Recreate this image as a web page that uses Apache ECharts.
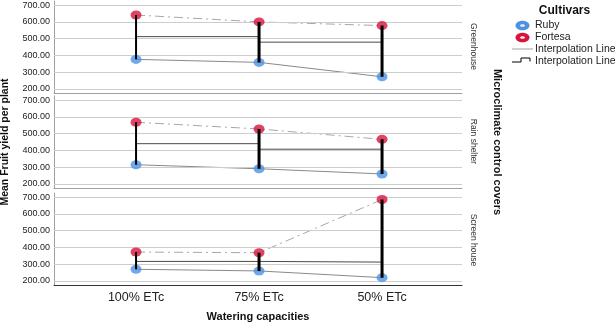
<!DOCTYPE html>
<html>
<head>
<meta charset="utf-8">
<script src="https://cdn.jsdelivr.net/npm/echarts@6/dist/echarts.min.js"></script>
<style>
html,body{margin:0;padding:0;background:#fff;}
#main{width:615px;height:323px;}
</style>
</head>
<body>
<div id="main"></div>
<script>
// ---- data ----
const categories = ['100% ETc', '75% ETc', '50% ETc'];
const panels = ['Greenhouse', 'Rain shelter', 'Screen house'];
const yTicks = [200, 300, 400, 500, 600, 700];
const rubyGreenhouse = [376, 358, 272];
const fortesaGreenhouse = [641, 600, 578];
const meanGreenhouse = [512, 479, 425];
const rubyRainShelter = [314, 290, 259];
const fortesaRainShelter = [568, 528, 466];
const meanRainShelter = [440, 407, 362];
const rubyScreenHouse = [269, 259, 219];
const fortesaScreenHouse = [372, 368, 686];
const meanScreenHouse = [316, 312, 453];

const rubyData = [rubyGreenhouse, rubyRainShelter, rubyScreenHouse];
const fortesaData = [fortesaGreenhouse, fortesaRainShelter, fortesaScreenHouse];
const meanData = [meanGreenhouse, meanRainShelter, meanScreenHouse];

const BLUE = '#4d92e3';
const RED = '#d8143c';
const FONT = 'Liberation Sans, Arial, sans-serif';

const gridTops = [1, 96, 193];
const grids = gridTops.map(t => ({left: 54, width: 408, top: t, height: 92}));

const xAxes = gridTops.map((t, p) => ({
  type: 'value', gridIndex: p, min: -0.667, max: 2.65,
  axisLine: {show: true, onZero: false, lineStyle: {color: p === 2 ? '#333' : '#a0a0a0', width: 1}},
  axisTick: {show: false},
  splitLine: {show: false},
  axisLabel: {
    show: p === 2, customValues: [0, 1, 2], margin: 6,
    fontSize: 12.5, color: '#222', fontFamily: FONT,
    formatter: v => (Number.isInteger(v) && categories[v]) ? categories[v] : ''
  }
}));
const yAxes = gridTops.map((t, p) => ({
  type: 'value', gridIndex: p, min: 175, max: 725,
  axisLine: {show: true, onZero: false, lineStyle: {color: '#a0a0a0', width: 1}},
  axisTick: {show: false},
  splitLine: {show: false},
  axisLabel: {
    customValues: yTicks, margin: 4, fontSize: 9, color: '#222', fontFamily: FONT,
    formatter: v => yTicks.indexOf(v) >= 0 ? v.toFixed(2) : ''
  }
}));

const series = [];
for (let p = 0; p < 3; p++) {
  const ruby = rubyData[p], forte = fortesaData[p], mean = meanData[p];
  // Ruby interpolation line + grid lines
  series.push({
    type: 'line', xAxisIndex: p, yAxisIndex: p, z: 2,
    data: ruby.map((v, i) => [i, v]), symbol: 'none',
    lineStyle: {color: '#8a8a8a', width: 1},
    markLine: {
      silent: true, symbol: ['none', 'none'], label: {show: false},
      lineStyle: {color: '#cdcdcd', type: 'solid', width: 1},
      emphasis: {disabled: true},
      data: yTicks.map(v => ({yAxis: v}))
    }
  });
  // Fortesa interpolation line (dash-dot)
  series.push({
    type: 'line', xAxisIndex: p, yAxisIndex: p, z: 3,
    data: forte.map((v, i) => [i, v]), symbol: 'none',
    lineStyle: {color: '#a8a8a8', width: 1, type: [9, 4, 2, 4]}
  });
  // mean step interpolation line
  series.push({
    type: 'line', xAxisIndex: p, yAxisIndex: p, z: 4, step: 'end',
    data: mean.map((v, i) => [i, v]), symbol: 'none',
    lineStyle: {color: '#4a4a4a', width: 1}
  });
  // markers
  series.push({
    type: 'scatter', xAxisIndex: p, yAxisIndex: p, z: 6,
    data: ruby.map((v, i) => [i, v]), symbol: 'circle', symbolSize: [11, 9],
    itemStyle: {color: BLUE}
  });
  series.push({
    type: 'scatter', xAxisIndex: p, yAxisIndex: p, z: 6,
    data: forte.map((v, i) => [i, v]), symbol: 'circle', symbolSize: [11, 9],
    itemStyle: {color: RED}
  });
  // vertical black drop lines between cultivars
  for (let i = 0; i < categories.length; i++) {
    series.push({
      type: 'line', xAxisIndex: p, yAxisIndex: p, z: 8,
      data: [[i, ruby[i]], [i, forte[i]]], symbol: 'none',
      lineStyle: {color: '#000', width: i === 0 ? 2 : 3}
    });
  }
}

const txt = (x, y, text, opts) => Object.assign({
  type: 'text', x: x, y: y,
  style: Object.assign({text: text, fill: '#222', font: '10px ' + FONT, align: 'center', verticalAlign: 'middle'}, opts || {})
});

const graphic = [
  // panel labels
  Object.assign(txt(473, 46.5, panels[0], {font: '8.5px ' + FONT, fill: '#333'}), {rotation: -Math.PI / 2}),
  Object.assign(txt(473, 141.5, panels[1], {font: '8.5px ' + FONT, fill: '#333'}), {rotation: -Math.PI / 2}),
  Object.assign(txt(473, 240, panels[2], {font: '8.5px ' + FONT, fill: '#333'}), {rotation: -Math.PI / 2}),
  // outer titles
  Object.assign(txt(497, 142, 'Microclimate control covers', {font: 'bold 11px ' + FONT, fill: '#111'}), {rotation: -Math.PI / 2}),
  Object.assign(txt(5, 142, 'Mean Fruit yield per plant', {font: 'bold 10.5px ' + FONT, fill: '#111'}), {rotation: Math.PI / 2}),
  txt(258, 316.5, 'Watering capacities', {font: 'bold 11px ' + FONT, fill: '#111'}),
  // legend
  txt(564.5, 10.5, 'Cultivars', {font: 'bold 12px ' + FONT, fill: '#111'}),
  {type: 'ellipse', shape: {cx: 522.5, cy: 25.5, rx: 7, ry: 4.8}, style: {fill: BLUE}},
  {type: 'ellipse', shape: {cx: 522.5, cy: 25.5, rx: 2.5, ry: 1.3}, style: {fill: '#e8f0fb'}},
  {type: 'ellipse', shape: {cx: 522.5, cy: 37.5, rx: 7, ry: 4.8}, style: {fill: RED}},
  {type: 'ellipse', shape: {cx: 522.5, cy: 37.5, rx: 2.5, ry: 1.3}, style: {fill: '#fbe8ec'}},
  txt(535, 25.5, 'Ruby', {align: 'left', font: '10.5px ' + FONT}),
  txt(535, 37.5, 'Fortesa', {align: 'left', font: '10.5px ' + FONT}),
  {type: 'line', shape: {x1: 512, y1: 49, x2: 533, y2: 49}, style: {stroke: '#a0a0a0', lineWidth: 1}},
  txt(535, 49, 'Interpolation Line', {align: 'left', font: '10.5px ' + FONT}),
  {type: 'polyline', shape: {points: [[512, 62], [521, 62], [521, 58], [530, 58], [530, 61.5]]}, style: {stroke: '#000', lineWidth: 1, fill: null}},
  txt(535, 61, 'Interpolation Line', {align: 'left', font: '10.5px ' + FONT})
];

const chart = echarts.init(document.getElementById('main'), null, {renderer: 'canvas'});
chart.setOption({
  animation: false,
  backgroundColor: '#fff',
  textStyle: {fontFamily: FONT},
  grid: grids,
  xAxis: xAxes,
  yAxis: yAxes,
  series: series,
  graphic: graphic
});
</script>
</body>
</html>
